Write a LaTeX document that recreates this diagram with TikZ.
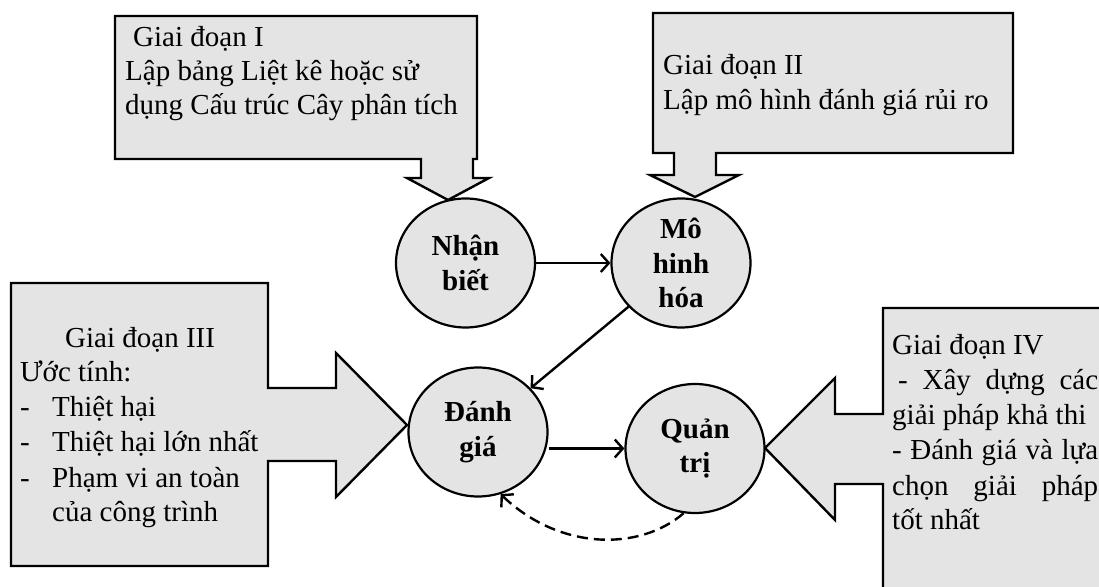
\documentclass[tikz,border=0pt]{standalone}
\usepackage{fontspec}
\setmainfont{Liberation Serif}
\usetikzlibrary{arrows.meta,shapes.geometric}
\definecolor{boxfill}{HTML}{E4E4E4}
\tikzset{
  callout/.style={draw=black,fill=boxfill,line width=2.4pt,line join=miter},
  stage/.style={ellipse,draw=black,fill=boxfill,line width=2.2pt,minimum width=139pt,minimum height=129pt,inner sep=0pt,align=center,font=\fontsize{29}{34.5}\selectfont\bfseries},
  txt/.style={anchor=base west,inner sep=0pt,font=\fontsize{29}{34.5}\selectfont},
  conn/.style={line width=2.4pt,-{Straight Barb[length=8pt,width=18pt,line width=2.4pt]}},
  fb/.style={conn,dash pattern=on 11pt off 6pt}
}
\begin{document}
\begin{tikzpicture}[x=1pt,y=1pt]
\clip (0,0) rectangle (1099,586);
\fill[white] (0,0) rectangle (1099,586);
% callout boxes
\draw[callout] (115,570) -- (477,570) -- (477,427) -- (473,427) -- (473,408) -- (489,408) -- (448,386) -- (407,408) -- (421,408) -- (421,427) -- (115,427) -- cycle;
\draw[callout] (653,573) -- (1013,573) -- (1013,433) -- (716,433) -- (716,411) -- (739,411) -- (695,389) -- (650,411) -- (674,411) -- (674,433) -- (653,433) -- cycle;
\draw[callout] (11,303) -- (268,303) -- (268,198) -- (336,198) -- (336,233) -- (407,161) -- (336,89) -- (336,125) -- (268,125) -- (268,20) -- (11,20) -- cycle;
\draw[callout] (883,278) -- (1120,278) -- (1120,-20) -- (883,-20) -- (883,102) -- (835,102) -- (835,66) -- (765,138) -- (835,208) -- (835,172) -- (883,172) -- cycle;
% box texts
\node[txt] (t1a) at (133,539) {Giai đoạn I};
\node[txt] (t1b) at (125,505) {Lập bảng Liệt kê hoặc sử};
\node[txt] (t1c) at (125,471) {dụng Cấu trúc Cây phân tích};
\node[txt] (t2a) at (663,511) {Giai đoạn II};
\node[txt] (t2b) at (663,476) {Lập mô hình đánh giá rủi ro};
\node[txt] (t3a) at (65,238) {Giai đoạn III};
\node[txt] (t3b) at (20,204) {Ước tính:};
\node[txt] (t3c) at (20,169) {-};
\node[txt] (t3d) at (52,169) {Thiệt hại};
\node[txt] (t3e) at (20,134) {-};
\node[txt] (t3f) at (52,134) {Thiệt hại lớn nhất};
\node[txt] (t3g) at (20,99) {-};
\node[txt] (t3h) at (52,99) {Phạm vi an toàn};
\node[txt] (t3i) at (52,65) {của công trình};
\node[txt] (t4a) at (892,231) {Giai đoạn IV};
\node[txt] (t4b) at (898,196) {\makebox[200pt][s]{- Xây dựng các}};
\node[txt] (t4c) at (892,161) {giải pháp khả thi};
\node[txt] (t4d) at (892,126) {\makebox[206pt][s]{- Đánh giá và lựa}};
\node[txt] (t4e) at (892,91) {\makebox[206pt][s]{chọn giải pháp}};
\node[txt] (t4f) at (892,57) {tốt nhất};
% stages
\node[stage] (n) at (465.5,323) {Nhận\\biết};
\node[stage] (m) at (681,323) {Mô\\hinh\\hóa};
\node[stage] (d) at (478,154) {Đánh\\giá};
\node[stage] (q) at (695,137.5) {Quản\\trị};
% connectors
\draw[conn] (n) -- (m);
\draw[conn] (m) -- (d);
\draw[conn] (d.east |- q.west) -- (q.west);
\draw[fb] (q.260) .. controls (640,35) and (560,35) .. (d.290);
\end{tikzpicture}
\end{document}
